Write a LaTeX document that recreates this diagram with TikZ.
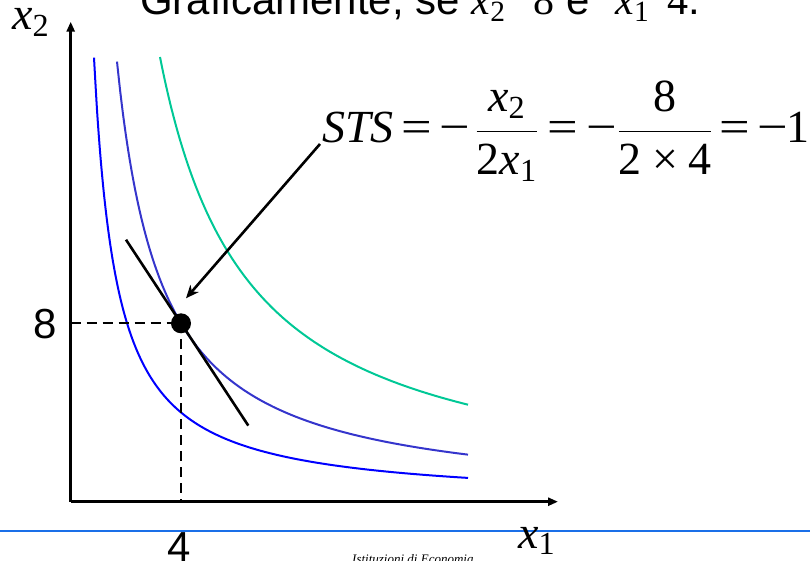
\RequirePackage{fix-cm}
\documentclass[tikz,border=0pt]{standalone}
\usepackage{amsmath}
\usepackage{fontspec}
\setmainfont{Liberation Serif}
\newfontfamily\arialf{Liberation Sans}
\usetikzlibrary{arrows.meta}
\definecolor{cblue}{HTML}{0000FF}
\definecolor{cpurple}{HTML}{3535CC}
\definecolor{cteal}{HTML}{00C896}
\definecolor{rulecol}{HTML}{1A6FE8}
\newcommand\vx{\text{\rmfamily\itshape x}}
\newcommand\tn[1]{\text{\rmfamily #1}}
\newcommand\oeq{\mathord{\text{\rmfamily\scalebox{1.18}[1]{=}}}}
\newcommand\omin{\mathord{\text{\rmfamily\scalebox{1.18}[1]{−}}}}
\newcommand\ttimes{\mathbin{\text{\rmfamily ×}}}
\newcommand\ofr[2]{\mathord{\frac{#1}{#2}}}
\begin{document}
\begin{tikzpicture}[x=1pt,y=1pt,
  curve/.style={line width=2pt},
  axisline/.style={line width=2.7pt,-{Triangle[length=10pt,width=8pt]}},
  guide/.style={line width=2pt,dash pattern=on 10pt off 6pt},
  tangent/.style={line width=2.6pt},
  pointer/.style={line width=2.6pt,-{Stealth[length=13pt,width=11pt,inset=4pt]}},
  bigsans/.style={font=\arialf\fontsize{42}{46}\selectfont,inner sep=0},
  bigserif/.style={font=\rmfamily\fontsize{46}{50}\selectfont,inner sep=0}]
\useasboundingbox (0,0) rectangle (810,560);
% footer rule
\draw[line width=2.8pt,rulecol] (0,29) -- (810,29);
% origin and axis ends
\coordinate (O) at (70.7,58.3);
\coordinate (ytop) at (70.7,538.3);
\coordinate (xend) at (558,58.3);
% indifference curves
\begin{scope}[shift={(O)}]
\draw[curve,cblue] plot[domain=23.3:397.3,samples=120,smooth] (\x,{98.76*pow(100/\x,1.032)});
\draw[curve,cpurple] plot[domain=46.3:397.3,samples=120,smooth] (\x,{197.6*pow(100/\x,1.04)});
\draw[curve,cteal] plot[domain=89.3:397.3,samples=120,smooth] (\x,{396.2*pow(100/\x,1.02)});
\end{scope}
% point
\node[circle,fill=black,minimum size=20pt,inner sep=0] (pt) at (181,236.7) {};
% guides
\draw[guide] (O |- pt) -- (pt.center);
\draw[guide] (pt.center) -- (pt |- O);
% tangent
\coordinate (ta) at (126,320.3);
\coordinate (tb) at (248.3,134.4);
\draw[tangent] (ta) -- (tb);
% axes
\draw[axisline] (O) -- (ytop);
\draw[axisline] (O) -- (xend);
% formula
\node[bigserif,anchor=base west] (sts) at (322,417)
  {$\displaystyle \text{\rmfamily\itshape STS}\hspace{8pt}\oeq\hspace{7.5pt}\omin\hspace{5pt}\ofr{\vx_{\tn{2}}}{\tn{2}\vx_{\tn{1}}}\hspace{10pt}\oeq\hspace{8.3pt}\omin\hspace{0.3pt}\ofr{\tn{8}}{\tn{2}\ttimes\tn{4}}\hspace{7pt}\oeq\hspace{7.5pt}\omin\hspace{-1.5pt}\tn{1}$};
\coordinate (tip) at (186,261.7);
\draw[pointer] (sts.base west) ++(-2,-1) -- (tip);
% labels
\node[bigserif,anchor=base west] (lx2) at (12,530) {$\vx_{\tn{2}}$};
\node[bigserif,anchor=base west] (lx1) at (518,12) {$\vx_{\tn{1}}$};
\node[bigsans,anchor=base] (l8) at (45,221.5) {8};
\node[bigsans,anchor=base] (l4) at (179,-1) {4};
\node[font=\rmfamily\itshape\fontsize{13}{15}\selectfont,inner sep=0,anchor=base west] (foot) at (352,-3.7) {Istituzioni di Economia};
% title (cut by the top edge)
\node[bigsans,anchor=base west] (title) at (140,545)
  {Graficamente, se $\vx_{\tn{2}}\hspace{28pt}\tn{8}$ e\hspace{26pt}$\vx_{\tn{1}}\hspace{18pt}\tn{4}$.};
\end{tikzpicture}
\end{document}
